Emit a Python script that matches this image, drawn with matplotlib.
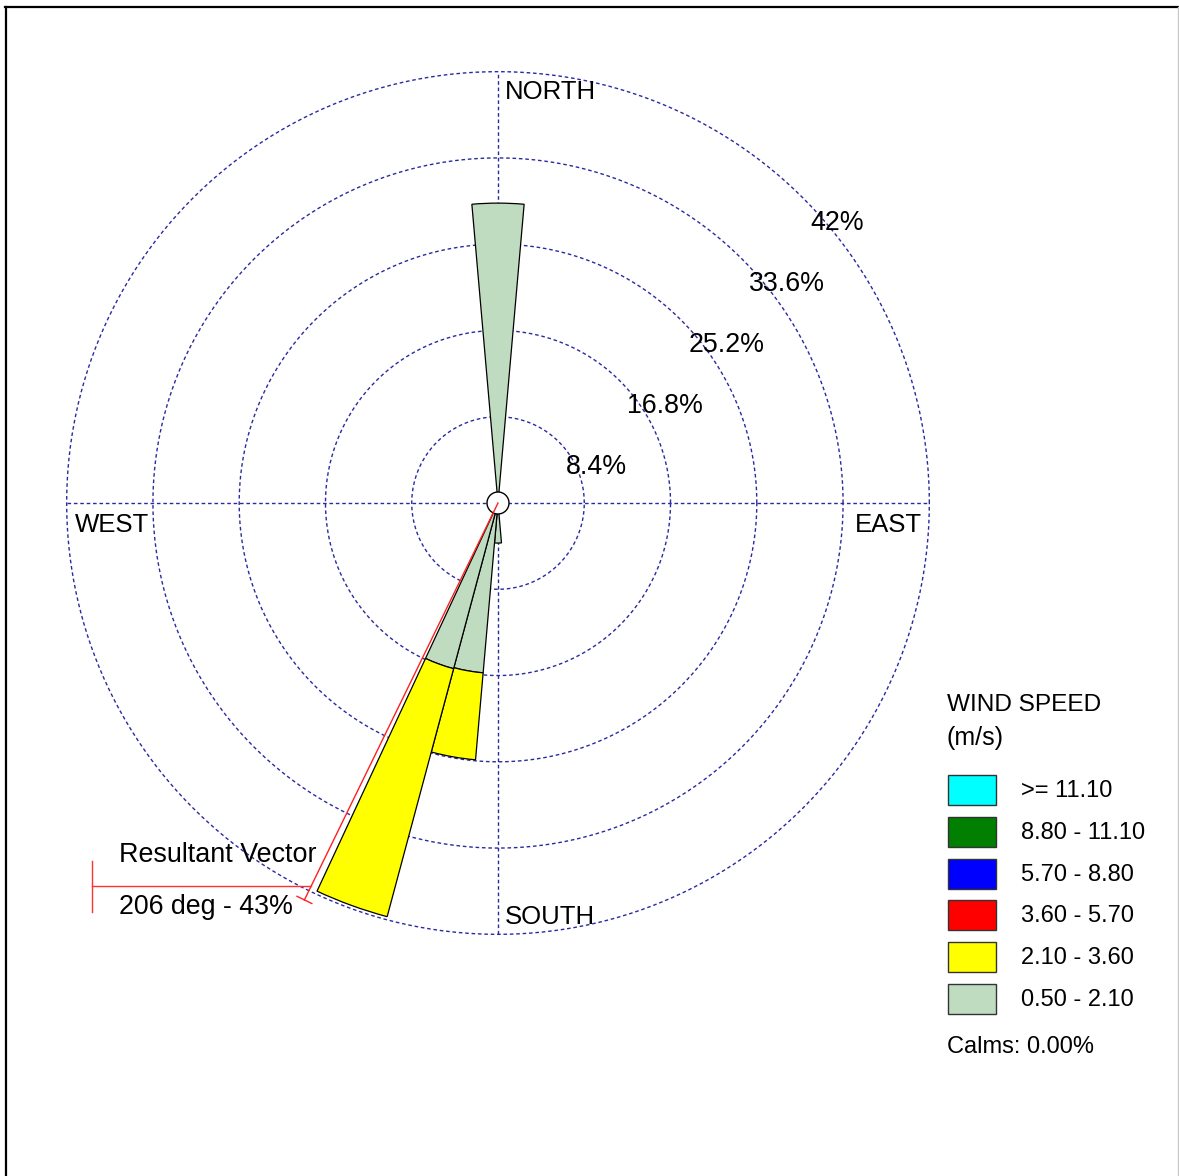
import numpy as np
import matplotlib.pyplot as plt
from matplotlib.patches import Wedge, Circle, Rectangle
from matplotlib.lines import Line2D

plt.rcParams['font.family'] = ['Liberation Sans', 'DejaVu Sans']

# wind rose data, percent of time per 10 deg sector (compass degrees)
directions = [360, 180, 190, 200]
freq_050_210 = [29.2, 3.9, 16.6, 16.7]
freq_210_360 = [0.0, 0.0, 8.5, 25.0]

ring_levels = [8.4, 16.8, 25.2, 33.6, 42.0]
ring_labels = ["8.4%", "16.8%", "25.2%", "33.6%", "42%"]

speed_labels = [">= 11.10", "8.80 - 11.10", "5.70 - 8.80",
                "3.60 - 5.70", "2.10 - 3.60", "0.50 - 2.10"]
speed_colors = ["#00FFFF", "#007F00", "#0000FF", "#FF0000", "#FFFF00", "#C0DCC0"]

resultant_dir = 206
resultant_pct = 43
calms = 0.00

W, H = 1179, 1176
cx, cy = 498, 503      # rose centre in pixels
s = 10.27              # pixels per percent


def px(x, y):
    return (x - cx) / s, (cy - y) / s


fig = plt.figure(figsize=(W / 100, H / 100), dpi=100, facecolor='white')
ax = fig.add_axes([0, 0, 1, 1])
ax.set_xlim(-cx / s, (W - cx) / s)
ax.set_ylim(-(H - cy) / s, cy / s)
ax.axis('off')

grid_kw = dict(color='#2a2aa0', lw=1.0, ls=(0, (2.6, 2.0)), zorder=1)
rmax = ring_levels[-1]
th = np.linspace(0, 2 * np.pi, 721)
for r in ring_levels:
    ax.plot(r * np.cos(th), r * np.sin(th), **grid_kw)
ax.plot([-rmax, rmax], [0, 0], **grid_kw)
ax.plot([0, 0], [-rmax, rmax], **grid_kw)

# ring labels along the NE diagonal
for r, lab in zip(ring_levels, ring_labels):
    x0 = r * np.cos(np.pi / 4)
    ax.text(x0 + 0.7, x0 - 2.45, lab, ha='left', va='center', fontsize=19.3)

# stacked sectors
for d, g, y in zip(directions, freq_050_210, freq_210_360):
    base = 0.0
    for val, col in [(g, speed_colors[5]), (y, speed_colors[4])]:
        if val <= 0:
            continue
        top = base + val
        ax.add_patch(Wedge((0, 0), top, 90 - d - 5, 90 - d + 5, width=val,
                           facecolor=col, edgecolor='black', lw=0.9, zorder=3))
        base = top

ax.add_patch(Circle((0, 0), 1.07, facecolor='white', edgecolor='black',
                    lw=1.0, zorder=5))

# compass labels
for lab, (x, y) in [("NORTH", (505, 92)), ("SOUTH", (505, 917)),
                    ("WEST", (75, 525)), ("EAST", (855, 525))]:
    ax.text(*px(x, y), lab, ha='left', va='center', fontsize=18.5)

# resultant vector
ang = np.deg2rad(90 - resultant_dir)
ux, uy = np.cos(ang), np.sin(ang)
ax.plot([0, resultant_pct * ux], [0, resultant_pct * uy], color='#ff2020',
        lw=1.0, zorder=6)
tx, ty = -uy * 0.8, ux * 0.8
ex, ey = resultant_pct * ux, resultant_pct * uy
ax.plot([ex - tx, ex + tx], [ey - ty, ey + ty], color='#ff2020', lw=1.0, zorder=6)
xl, yh = px(92, 886)
t = yh / uy
ax.plot([xl, t * ux], [yh, yh], color='#ff3030', lw=1.0, zorder=6)
ax.plot([xl, xl], [px(0, 861)[1], px(0, 912)[1]], color='#ff3030', lw=1.0, zorder=6)
ax.text(*px(119, 855), "Resultant Vector", ha='left', va='center', fontsize=19.4)
ax.text(*px(119, 907), f"{resultant_dir} deg - {resultant_pct}%",
        ha='left', va='center', fontsize=19.3)

# legend
ax.text(*px(947, 705), "WIND SPEED", ha='left', va='center', fontsize=17.6)
ax.text(*px(947, 738), "(m/s)", ha='left', va='center', fontsize=18)
for i, (lab, col) in enumerate(zip(speed_labels, speed_colors)):
    top = 775 + i * 41.8
    x0, y0 = px(948, top + 30)
    ax.add_patch(Rectangle((x0, y0), 48 / s, 30 / s, facecolor=col,
                           edgecolor='#333333', lw=1.0, zorder=3))
    ax.text(*px(1021, top + 16), lab, ha='left', va='center', fontsize=17)
ax.text(*px(947, 1047), f"Calms: {calms:.2f}%", ha='left', va='center', fontsize=17)

# page frame
fig.add_artist(Line2D([5 / W, 1178 / W], [1 - 6.5 / H, 1 - 6.5 / H],
                      color='black', lw=1.6))
fig.add_artist(Line2D([5.5 / W, 5.5 / W], [0, 1 - 6.5 / H], color='black', lw=1.6))
fig.add_artist(Line2D([1178 / W, 1178 / W], [0, 1 - 6.5 / H], color='#c8c8c8', lw=1.0))

fig.savefig("out.png", dpi=100, facecolor='white')
